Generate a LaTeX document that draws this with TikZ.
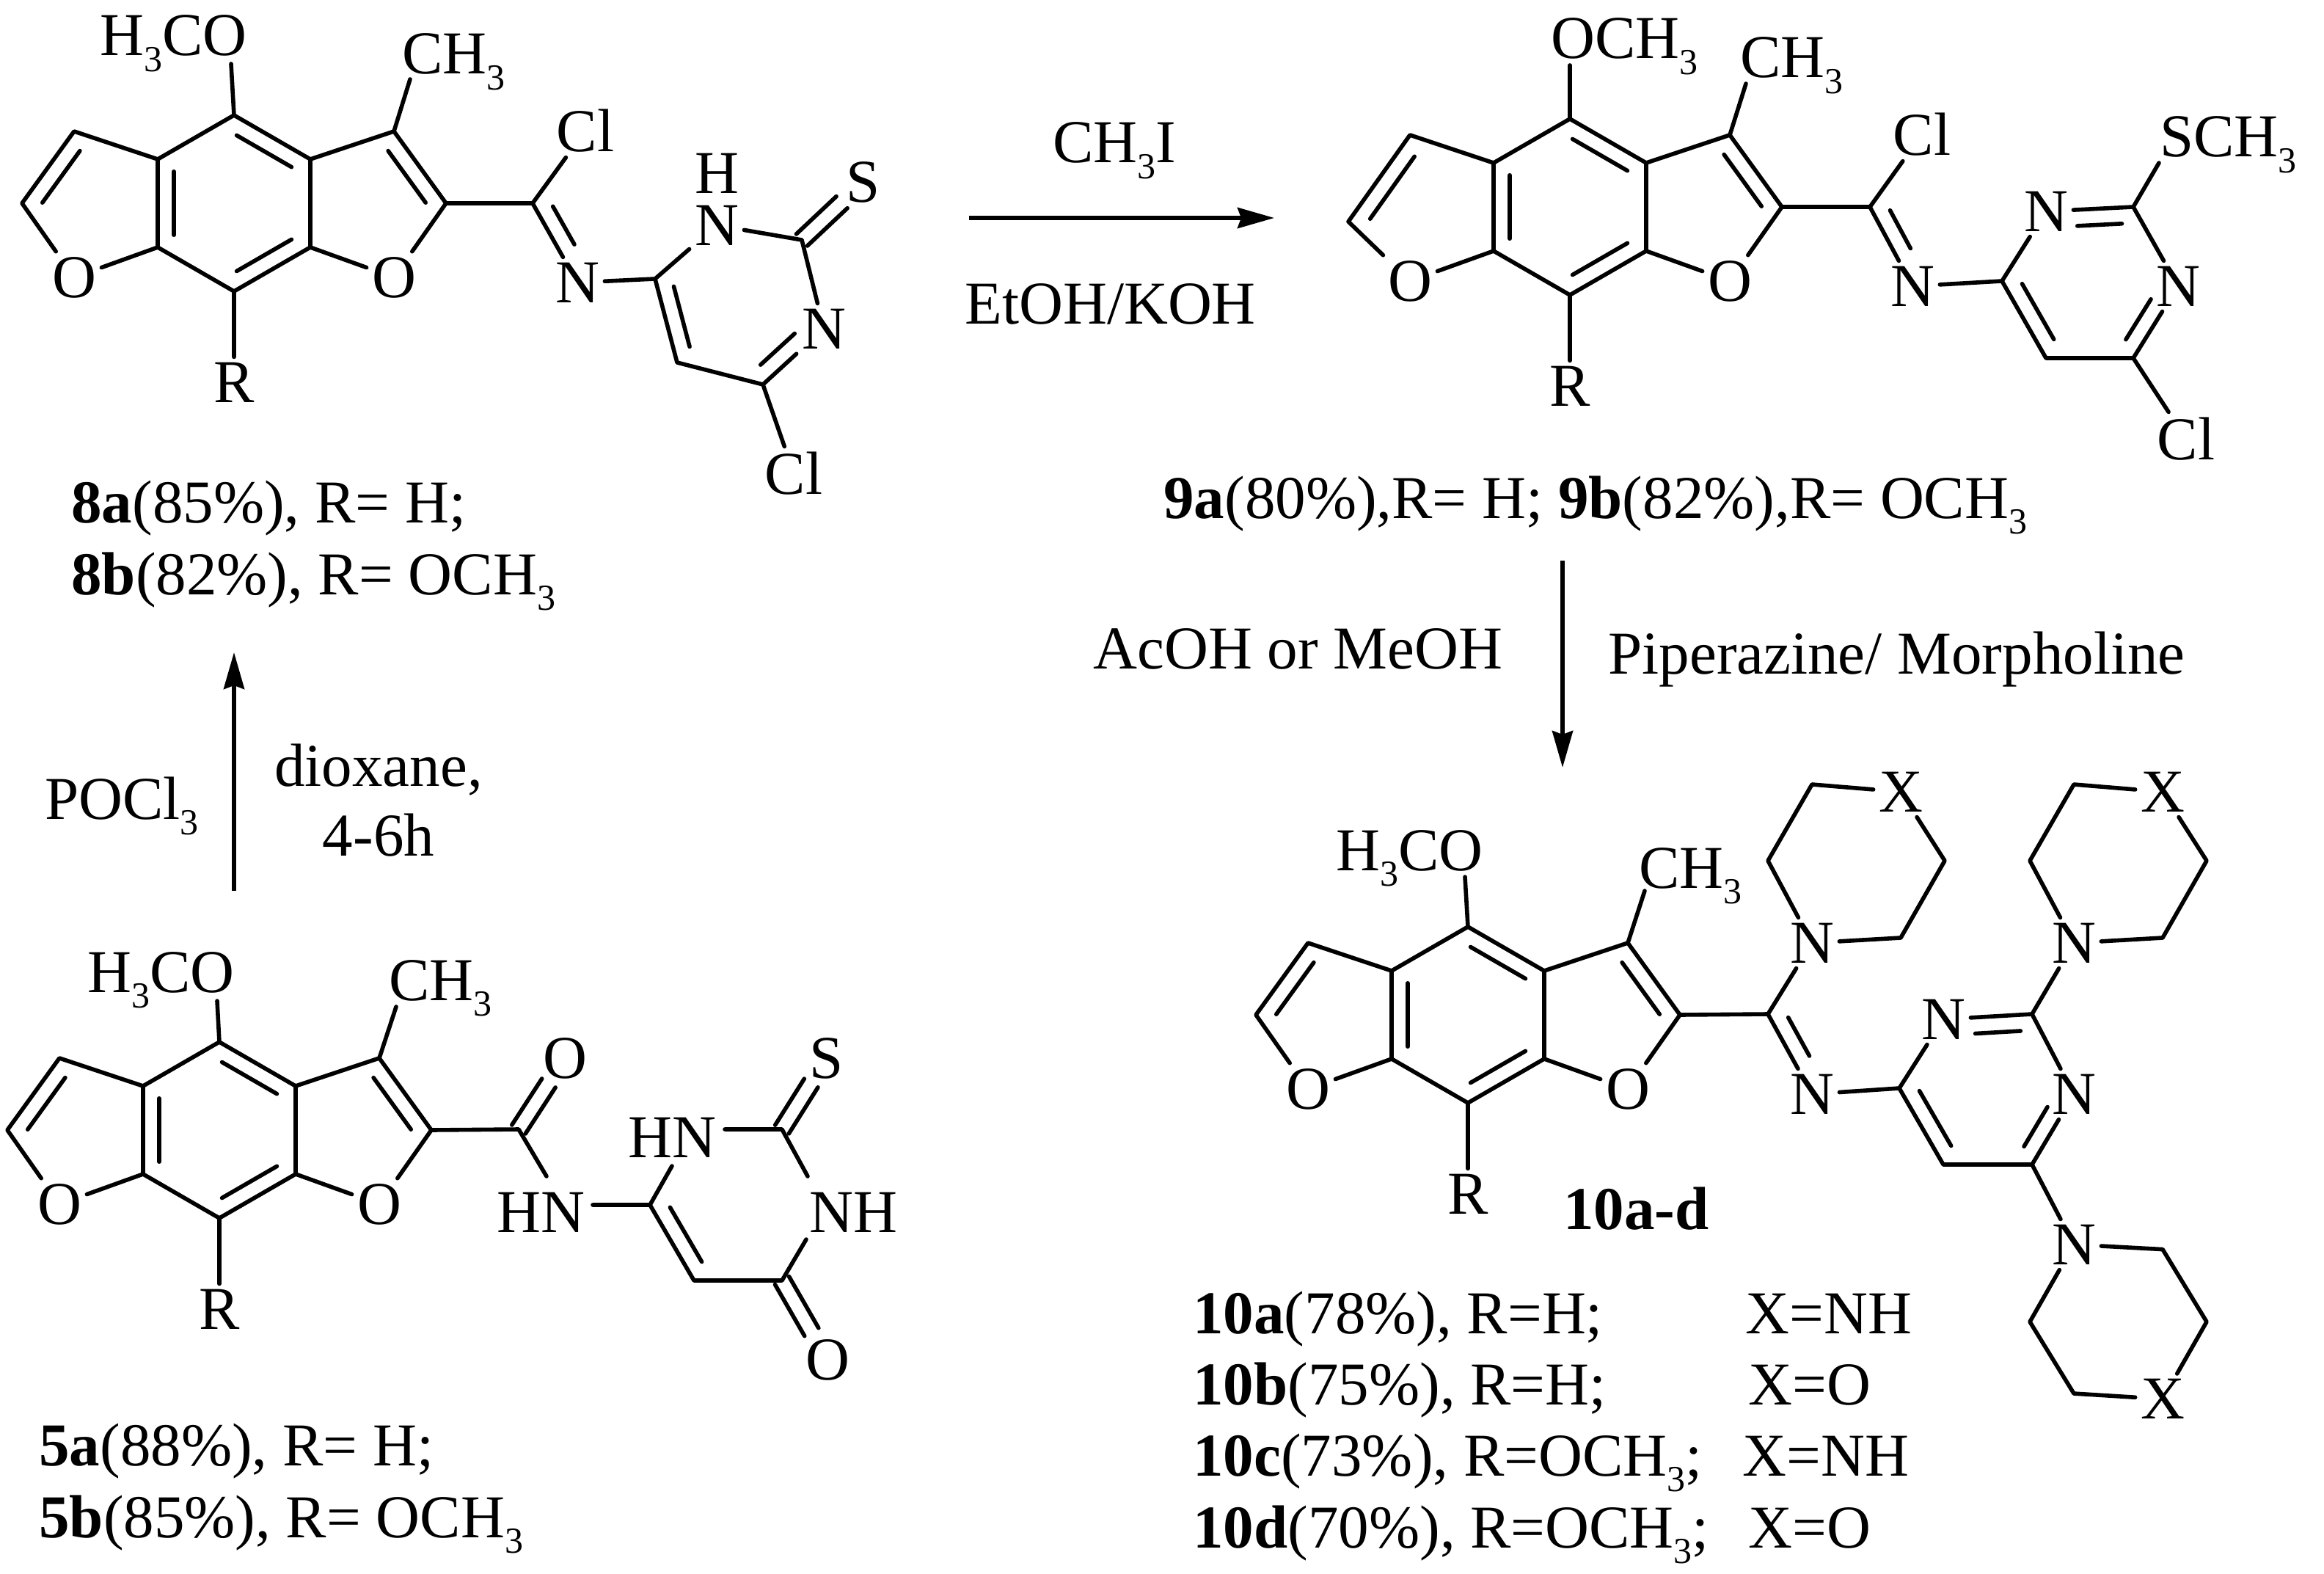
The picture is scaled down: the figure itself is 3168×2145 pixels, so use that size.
\documentclass[tikz,border=0pt]{standalone}
\usepackage{fontspec}
\setmainfont{Liberation Serif}
\usetikzlibrary{arrows.meta,calc}
\newcommand{\low}[1]{\raisebox{-.26em}{\fontsize{25}{27}\selectfont #1}}
\tikzset{
  bond/.style={line width=2.8pt,line cap=round,line join=round},
  atom/.style={inner sep=3.5pt},
  lab/.style={anchor=base west,inner sep=0pt},
  txt/.style={anchor=base west,inner sep=0pt},
  rxn/.style={line width=2.8pt,-{Stealth[length=25pt,width=14pt,inset=2.5pt]}}
}
% inner line of a double bond
\newcommand{\dbl}[4][.86]{\draw[bond] ($(#2)!.14!(#3)!11pt!#4:(#3)$) -- ($(#2)!#1!(#3)!11pt!#4:(#3)$);}
% two lines side by side, for C=O and C=S
\newcommand{\twin}[3][.65]{
  \draw[bond] ($(#2)!5.5pt!90:(#3)$) -- ($(#2)!#1!(#3)!5.5pt!90:(#3)$);
  \draw[bond] ($(#2)!5.5pt!-90:(#3)$) -- ($(#2)!#1!(#3)!5.5pt!-90:(#3)$);
}
% the furo-benzofuran core: name, x, y of the top carbon, position of the left furan tip
\newcommand{\furocore}[5]{
  \begin{scope}[shift={(#2,#3)},name prefix=#1-]
    \coordinate (c4) at (0,0);
    \coordinate (c4a) at (-104,60);
    \coordinate (c8b) at (-104,180);
    \coordinate (c8) at (0,240);
    \coordinate (c8a) at (104,180);
    \coordinate (c3a) at (104,60);
    \coordinate (fa) at (-218,22);
    \coordinate (fb) at (#4,#5);
    \coordinate (ma) at (218,22);
    \coordinate (mb) at (289,120);
    \node[atom] (ox) at (-218,221) {O};
    \node[atom] (oy) at (218,221) {O};
    \node[atom] (r) at (0,364) {R};
    \draw[bond] (c4) -- (c4a) -- (c8b) -- (c8) -- (c8a) -- (c3a) -- cycle;
    \draw[bond] (c4a) -- (fa) -- (fb) -- (ox) -- (c8b);
    \draw[bond] (c3a) -- (ma) -- (mb) -- (oy) -- (c8a);
    \draw[bond] (c8) -- (r);
    \dbl{c4}{c3a}{-90}
    \dbl{c4a}{c8b}{90}
    \dbl{c8}{c8a}{90}
    \dbl{fa}{fb}{90}
    \dbl{ma}{mb}{-90}
  \end{scope}
}
% saturated ring on a nitrogen: name, x, y, yscale, y of X
\newcommand{\morph}[5]{
  \begin{scope}[shift={(#2,#3)},yscale=#4,name prefix=#1-]
    \node[atom] (n) at (0,0) {N};
    \node[atom] (x) at (121,#5) {X};
    \draw[bond] (n) -- (121,-7) -- (181,-112) -- (x) -- (0,-216) -- (-60,-112) -- (n);
  \end{scope}
}
\begin{document}
\begin{tikzpicture}[x=.5pt,y=-.5pt,font=\fontsize{41.5}{46}\selectfont]
  \useasboundingbox (0,0) rectangle (3168,2145);

  % compound 8
  \furocore{eight}{319}{157}{-289}{120}
  \node[lab] (eight-ome) at (136,76) {H\low{3}CO};
  \node[lab] (eight-me) at (548,101) {CH\low{3}};
  \coordinate (eight-omeb) at (315,87);
  \coordinate (eight-meb) at (559,108);
  \coordinate (eight-cim) at (726,277);
  \coordinate (eight-c6) at (893,380);
  \coordinate (eight-c5) at (923,494);
  \coordinate (eight-c4p) at (1040,524);
  \coordinate (eight-c2) at (1093,327);
  \node[atom] (eight-cl) at (798,178) {Cl};
  \node[atom] (eight-nim) at (787,385) {N};
  \node[atom] (eight-n1) at (977,307) {N};
  \node[inner sep=0pt] (eight-h) at (977,236) {H};
  \node[atom] (eight-n3) at (1123,448) {N};
  \node[atom] (eight-s) at (1177,248) {S};
  \node[atom] (eight-clb) at (1082,645) {Cl};
  \draw[bond] (eight-c4) -- (eight-omeb);
  \draw[bond] (eight-ma) -- (eight-meb);
  \draw[bond] (eight-mb) -- (eight-cim) -- (eight-nim);
  \draw[bond] (eight-cim) -- (eight-cl);
  \draw[bond] (eight-nim) -- (eight-c6) -- (eight-n1);
  \draw[bond] (eight-n1) -- (eight-c2) -- (eight-n3);
  \draw[bond] (eight-n3) -- (eight-c4p) -- (eight-c5) -- (eight-c6);
  \draw[bond] (eight-c4p) -- (eight-clb);
  \dbl[.62]{eight-cim}{eight-nim}{90}
  \dbl{eight-c6}{eight-c5}{90}
  \dbl[.7]{eight-c4p}{eight-n3}{90}
  \twin{eight-c2}{eight-s}
  \node[txt] (eight-ya) at (97,712) {\textbf{8a}(85\%), R= H;};
  \node[txt] (eight-yb) at (97,810) {\textbf{8b}(82\%), R= OCH\low{3}};

  % compound 5
  \furocore{five}{299}{1420}{-289}{120}
  \node[lab] (five-ome) at (119,1352) {H\low{3}CO};
  \node[lab] (five-me) at (530,1363) {CH\low{3}};
  \coordinate (five-omeb) at (296,1364);
  \coordinate (five-meb) at (540,1372);
  \coordinate (five-co) at (707,1539);
  \coordinate (five-nhb) at (745,1603);
  \coordinate (five-nha) at (808,1642);
  \coordinate (five-c6) at (886,1642);
  \coordinate (five-hnb) at (916,1589);
  \coordinate (five-hna) at (988,1539);
  \coordinate (five-c2) at (1066,1539);
  \coordinate (five-nhc) at (1101,1603);
  \coordinate (five-nhd) at (1099,1689);
  \coordinate (five-c4p) at (1066,1745);
  \coordinate (five-c5) at (946,1745);
  \node[atom] (five-oa) at (770,1442) {O};
  \node[lab] (five-nh) at (677,1679) {HN};
  \node[lab] (five-hn) at (856,1577) {HN};
  \node[lab] (five-nhr) at (1103,1679) {NH};
  \node[atom] (five-s) at (1127,1442) {S};
  \node[atom] (five-ob) at (1128,1853) {O};
  \draw[bond] (five-c4) -- (five-omeb);
  \draw[bond] (five-ma) -- (five-meb);
  \draw[bond] (five-mb) -- (five-co) -- (five-nhb);
  \draw[bond] (five-nha) -- (five-c6) -- (five-hnb);
  \draw[bond] (five-hna) -- (five-c2) -- (five-nhc);
  \draw[bond] (five-nhd) -- (five-c4p) -- (five-c5) -- (five-c6);
  \dbl{five-c6}{five-c5}{90}
  \twin{five-co}{five-oa}
  \twin{five-c2}{five-s}
  \twin{five-c4p}{five-ob}
  \node[txt] (five-ya) at (53,1997) {\textbf{5a}(88\%), R= H;};
  \node[txt] (five-yb) at (53,2095) {\textbf{5b}(85\%), R= OCH\low{3}};

  % compound 9
  \furocore{nine}{2140}{162}{-302}{140}
  \node[lab] (nine-ome) at (2114,80) {OCH\low{3}};
  \node[lab] (nine-me) at (2372,106) {CH\low{3}};
  \coordinate (nine-omeb) at (2140,89);
  \coordinate (nine-meb) at (2380,114);
  \coordinate (nine-cim) at (2549,282);
  \coordinate (nine-c6) at (2729,383);
  \coordinate (nine-c5) at (2789,488);
  \coordinate (nine-c4p) at (2908,488);
  \coordinate (nine-c2) at (2908,282);
  \coordinate (nine-sb) at (2943,222);
  \node[atom] (nine-cl) at (2620,183) {Cl};
  \node[atom] (nine-nim) at (2607,390) {N};
  \node[atom] (nine-n1) at (2789,288) {N};
  \node[atom] (nine-n3) at (2969,390) {N};
  \node[atom] (nine-clb) at (2980,598) {Cl};
  \node[lab] (nine-s) at (2944,214) {SCH\low{3}};
  \draw[bond] (nine-c4) -- (nine-omeb);
  \draw[bond] (nine-ma) -- (nine-meb);
  \draw[bond] (nine-mb) -- (nine-cim) -- (nine-nim);
  \draw[bond] (nine-cim) -- (nine-cl);
  \draw[bond] (nine-nim) -- (nine-c6) -- (nine-n1);
  \draw[bond] (nine-n1) -- (nine-c2) -- (nine-n3);
  \draw[bond] (nine-n3) -- (nine-c4p) -- (nine-c5) -- (nine-c6);
  \draw[bond] (nine-c4p) -- (nine-clb);
  \draw[bond] (nine-c2) -- (nine-sb);
  \dbl[.62]{nine-cim}{nine-nim}{90}
  \dbl{nine-c6}{nine-c5}{90}
  \dbl[.7]{nine-c4p}{nine-n3}{90}
  \dbl[.65]{nine-c2}{nine-n1}{90}
  \node[txt] (nine-y) at (1586,706) {\textbf{9a}(80\%),R= H; \textbf{9b}(82\%),R= OCH\low{3}};

  % compound 10
  \furocore{ten}{2001}{1263}{-289}{120}
  \node[lab] (ten-ome) at (1821,1186) {H\low{3}CO};
  \node[lab] (ten-me) at (2234,1210) {CH\low{3}};
  \coordinate (ten-omeb) at (1997,1195);
  \coordinate (ten-meb) at (2242,1214);
  \coordinate (ten-cim) at (2410,1382);
  \coordinate (ten-c6) at (2589,1483);
  \coordinate (ten-c5) at (2649,1587);
  \coordinate (ten-c4p) at (2770,1587);
  \coordinate (ten-c2) at (2770,1382);
  \node[atom] (ten-nim) at (2470,1491) {N};
  \node[atom] (ten-n1) at (2649,1389) {N};
  \node[atom] (ten-n3) at (2827,1491) {N};
  \morph{mora}{2470}{1285}{1}{-206}
  \morph{morb}{2827}{1285}{1}{-206}
  \morph{morc}{2827}{1696}{-.94}{-224}
  \draw[bond] (ten-c4) -- (ten-omeb);
  \draw[bond] (ten-ma) -- (ten-meb);
  \draw[bond] (ten-mb) -- (ten-cim) -- (ten-nim);
  \draw[bond] (ten-cim) -- (mora-n);
  \draw[bond] (ten-nim) -- (ten-c6) -- (ten-n1);
  \draw[bond] (ten-n1) -- (ten-c2) -- (ten-n3);
  \draw[bond] (ten-n3) -- (ten-c4p) -- (ten-c5) -- (ten-c6);
  \draw[bond] (ten-c2) -- (morb-n);
  \draw[bond] (ten-c4p) -- (morc-n);
  \dbl[.62]{ten-cim}{ten-nim}{90}
  \dbl{ten-c6}{ten-c5}{90}
  \dbl[.7]{ten-c4p}{ten-n3}{90}
  \dbl[.65]{ten-c2}{ten-n1}{90}
  \node[txt] (ten-t) at (2131,1675) {\textbf{10a-d}};
  \node[txt] (ten-ya) at (1626,1817) {\textbf{10a}(78\%), R=H;};
  \node[txt] (ten-yb) at (1626,1914) {\textbf{10b}(75\%), R=H;};
  \node[txt] (ten-yc) at (1626,2011) {\textbf{10c}(73\%), R=OCH\low{3};};
  \node[txt] (ten-yd) at (1626,2109) {\textbf{10d}(70\%), R=OCH\low{3};};
  \node[txt] (ten-xa) at (2379,1817) {X=NH};
  \node[txt] (ten-xb) at (2383,1914) {X=O};
  \node[txt] (ten-xc) at (2375,2011) {X=NH};
  \node[txt] (ten-xd) at (2383,2109) {X=O};

  % reaction arrows
  \coordinate (rxa) at (319,1214);
  \coordinate (rxb) at (319,889);
  \coordinate (rxc) at (1321,297);
  \coordinate (rxd) at (1737,297);
  \coordinate (rxe) at (2130,764);
  \coordinate (rxf) at (2130,1046);
  \draw[rxn] (rxa) -- (rxb);
  \draw[rxn] (rxc) -- (rxd);
  \draw[rxn] (rxe) -- (rxf);
  \node[txt] (poc) at (61,1116) {POCl\low{3}};
  \node (dio) at (516,1049) {dioxane,};
  \node (hrs) at (516,1138) {4-6h};
  \node[txt] (mei) at (1435,222) {CH\low{3}I};
  \node[txt] (eto) at (1315,442) {EtOH/KOH};
  \node[txt] (aco) at (1490,911) {AcOH or MeOH};
  \node[txt] (pip) at (2192,918) {Piperazine/ Morpholine};
\end{tikzpicture}
\end{document}
